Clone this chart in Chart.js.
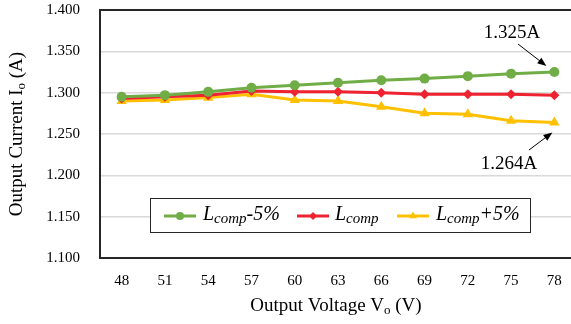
<!DOCTYPE html>
<html>
<head>
<meta charset="utf-8">
<script src="https://cdn.jsdelivr.net/npm/chart.js@4/dist/chart.umd.min.js"></script>
<style>
    html, body { margin: 0; padding: 0; background: #fff; overflow: hidden; }
    #wrap { width: 571px; height: 324px; overflow: hidden; }
</style>
</head>
<body>
<div id="wrap"><canvas id="ioChart" width="582" height="324"></canvas></div>
<script>
const voltages = ['48', '51', '54', '57', '60', '63', '66', '69', '72', '75', '78'];
const lcompMinus5 = [1.295, 1.297, 1.301, 1.306, 1.309, 1.312, 1.315, 1.317, 1.320, 1.323, 1.325];
const lcomp       = [1.293, 1.295, 1.297, 1.302, 1.301, 1.301, 1.300, 1.298, 1.298, 1.298, 1.297];
const lcompPlus5  = [1.290, 1.291, 1.294, 1.298, 1.291, 1.290, 1.283, 1.275, 1.274, 1.266, 1.264];
const yTicks = [1.100, 1.150, 1.200, 1.250, 1.300, 1.350, 1.400];

const GREEN = '#70ad47';
const RED = '#ee2230';
const YELLOW = '#ffc000';
const SERIF = '"Liberation Serif", "DejaVu Serif", serif';

// text with a lowered subscript part, returns end x
function drawSub(ctx, x, y, base, sub, rest, size, italic, ratio) {
    const st = italic ? 'italic ' : '';
    ctx.font = st + size + 'px ' + SERIF;
    ctx.fillText(base, x, y);
    x += ctx.measureText(base).width;
    ctx.font = st + Math.round(size * ratio) + 'px ' + SERIF;
    ctx.fillText(sub, x, y + size * 0.22);
    x += ctx.measureText(sub).width;
    ctx.font = st + size + 'px ' + SERIF;
    ctx.fillText(rest, x, y);
    return x + ctx.measureText(rest).width;
}

function subWidth(ctx, base, sub, rest, size, ratio) {
    ctx.font = size + 'px ' + SERIF;
    let w = ctx.measureText(base).width + ctx.measureText(rest).width;
    ctx.font = Math.round(size * ratio) + 'px ' + SERIF;
    return w + ctx.measureText(sub).width;
}

function arrow(ctx, x1, y1, x2, y2) {
    const a = Math.atan2(y2 - y1, x2 - x1);
    ctx.save();
    ctx.strokeStyle = '#000';
    ctx.fillStyle = '#000';
    ctx.lineWidth = 1;
    ctx.beginPath();
    ctx.moveTo(x1, y1);
    ctx.lineTo(x2 - 6 * Math.cos(a), y2 - 6 * Math.sin(a));
    ctx.stroke();
    ctx.beginPath();
    ctx.moveTo(x2, y2);
    ctx.lineTo(x2 - 9 * Math.cos(a) + 3.5 * Math.sin(a), y2 - 9 * Math.sin(a) - 3.5 * Math.cos(a));
    ctx.lineTo(x2 - 9 * Math.cos(a) - 3.5 * Math.sin(a), y2 - 9 * Math.sin(a) + 3.5 * Math.cos(a));
    ctx.closePath();
    ctx.fill();
    ctx.restore();
}

const extras = {
    id: 'extras',
    afterDraw(chart) {
        const ctx = chart.ctx;
        const xs = chart.scales.x, ys = chart.scales.y;
        ctx.save();
        ctx.fillStyle = '#000';
        ctx.textBaseline = 'middle';

        // axis titles
        ctx.textAlign = 'left';
        const w = subWidth(ctx, 'Output Voltage V', 'o', ' (V)', 19, 0.68);
        drawSub(ctx, 336 - w / 2, 306, 'Output Voltage V', 'o', ' (V)', 19, false, 0.68);

        ctx.save();
        ctx.translate(17, 134);
        ctx.rotate(-Math.PI / 2);
        const h = subWidth(ctx, 'Output Current I', 'o', ' (A)', 19, 0.68);
        drawSub(ctx, -h / 2, 0, 'Output Current I', 'o', ' (A)', 19, false, 0.68);
        ctx.restore();

        // value callouts on the end points
        const last = voltages.length - 1;
        const gx = xs.getPixelForValue(last), gy = ys.getPixelForValue(lcompMinus5[last]);
        const yy = ys.getPixelForValue(lcompPlus5[last]);
        ctx.font = '19px ' + SERIF;
        ctx.textAlign = 'center';
        ctx.fillText(lcompMinus5[last].toFixed(3) + 'A', 512, 33);
        ctx.fillText(lcompPlus5[last].toFixed(3) + 'A', 509, 164);
        arrow(ctx, 518, 44, gx - 8, gy - 6);
        arrow(ctx, 529, 150, gx - 2, yy + 10);

        // legend box
        ctx.fillStyle = '#fff';
        ctx.fillRect(150, 198, 381, 35);
        ctx.strokeStyle = '#262626';
        ctx.lineWidth = 1;
        ctx.strokeRect(150.5, 198.5, 380, 34);

        const items = [
            { x: 164, tx: 203, color: GREEN, shape: 'circle', r: 4, rest: '-5%' },
            { x: 297, tx: 335, color: RED, shape: 'rectRot', r: 4, rest: '' },
            { x: 397, tx: 436, color: YELLOW, shape: 'triangle', r: 4.5, rest: '+5%' }
        ];
        items.forEach(it => {
            ctx.strokeStyle = it.color;
            ctx.lineWidth = 3;
            ctx.beginPath();
            ctx.moveTo(it.x, 216);
            ctx.lineTo(it.x + 32, 216);
            ctx.stroke();
            ctx.fillStyle = it.color;
            Chart.helpers.drawPoint(ctx, { pointStyle: it.shape, radius: it.r, borderWidth: 0 }, it.x + 16, 216);
            ctx.fillStyle = '#000';
            ctx.textAlign = 'left';
            drawSub(ctx, it.tx, 215, 'L', 'comp', it.rest, 20, true, 0.75);
        });
        ctx.restore();
    }
};

function series(label, data, color, shape, r) {
    return {
        label: label,
        data: data,
        borderColor: color,
        backgroundColor: color,
        borderWidth: 3,
        pointStyle: shape,
        pointRadius: r,
        pointBorderWidth: 0,
        pointBackgroundColor: color,
        tension: 0
    };
}

new Chart(document.getElementById('ioChart').getContext('2d'), {
    type: 'line',
    data: {
        labels: voltages,
        datasets: [
            series('Lcomp-5%', lcompMinus5, GREEN, 'circle', 5),
            series('Lcomp', lcomp, RED, 'rectRot', 5),
            series('Lcomp+5%', lcompPlus5, YELLOW, 'triangle', 6)
        ]
    },
    options: {
        responsive: false,
        animation: false,
        layout: { padding: { top: 10, right: 0, left: 0, bottom: 0 } },
        plugins: { legend: { display: false }, tooltip: { enabled: false } },
        scales: {
            x: {
                offset: true,
                grid: { display: false, drawTicks: false },
                border: { color: '#262626', width: 2 },
                ticks: { color: '#000', font: { family: SERIF, size: 15 }, padding: 14 },
                afterFit(s) { s.height = 66; s.paddingLeft = 0; s.paddingRight = 0; }
            },
            y: {
                min: yTicks[0],
                max: yTicks[yTicks.length - 1],
                afterBuildTicks(s) { s.ticks = yTicks.map(v => ({ value: v })); },
                grid: {
                    drawTicks: false,
                    lineWidth: ctx => (ctx.tick && ctx.tick.value === 1.4 ? 2 : 1.5),
                    color: ctx => (ctx.tick && ctx.tick.value === 1.4 ? '#262626' : '#d9d9d9')
                },
                border: { color: '#262626', width: 2 },
                ticks: {
                    color: '#000',
                    font: { family: SERIF, size: 15 },
                    padding: 20,
                    callback: v => Number(v).toFixed(3)
                },
                afterFit(s) { s.width = 100; s.paddingTop = 0; s.paddingBottom = 0; }
            }
        }
    },
    plugins: [extras]
});
</script>
</body>
</html>
